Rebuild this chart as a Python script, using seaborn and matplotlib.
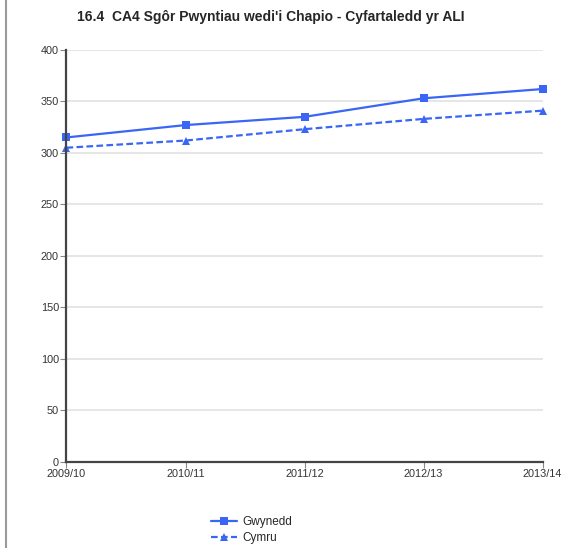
import seaborn as sns
import matplotlib.pyplot as plt
import pandas as pd
from matplotlib.lines import Line2D

# data
years = ['2009/10', '2010/11', '2011/12', '2012/13', '2013/14']
gwynedd = [315, 327, 335, 353, 362]
cymru = [305, 312, 323, 333, 341]

df = pd.DataFrame({'year': years * 2,
                   'score': gwynedd + cymru,
                   'area': ['Gwynedd'] * 5 + ['Cymru'] * 5})

sns.set_style('white')
plt.rcParams['font.family'] = ['Liberation Sans', 'DejaVu Sans']

blue = '#3a66f5'
fig = plt.figure(figsize=(5.73, 5.48), dpi=100)
ax = fig.add_axes([0.115, 0.157, 0.833, 0.752])

sns.lineplot(data=df, x='year', y='score', hue='area', style='area',
             palette=[blue, blue], markers=['s', '^'], dashes=[(None, None), (3, 1.5)],
             markersize=5.5, markeredgewidth=0, linewidth=1.6, ax=ax, sort=False)
for ln in ax.lines:
    ln.set_clip_on(False)

ax.set_ylim(0, 400)
ax.set_xlim(-0.005, 4.005)
ax.set_yticks(range(0, 401, 50))
ax.yaxis.grid(True, color='#e2e2e2', linewidth=1.2)
ax.set_axisbelow(True)
ax.set_xlabel('')
ax.set_ylabel('')
for s in ['top', 'right']:
    ax.spines[s].set_visible(False)
ax.spines['left'].set_color('#444444')
ax.spines['left'].set_linewidth(1.6)
ax.spines['bottom'].set_color('#444444')
ax.spines['bottom'].set_linewidth(1.6)
ax.tick_params(axis='both', length=4, width=0.8, color='#888888', labelsize=7.8,
               labelcolor='#333333', pad=1, direction='out', left=True, bottom=True)

fig.suptitle("16.4  CA4 Sgôr Pwyntiau wedi'i Chapio - Cyfartaledd yr ALI",
             x=0.473, y=0.969, va='center', fontsize=10, fontweight='bold')

handles, labels = ax.get_legend_handles_labels()
ax.legend(handles, labels, loc='upper left', bbox_to_anchor=(0.295, -0.12),
          frameon=False, fontsize=8.5, handlelength=2.2, handletextpad=0.4,
          labelspacing=0.3, borderaxespad=0)

# page border line at the left edge
fig.add_artist(Line2D([0.011, 0.011], [0, 1], color='#9a9a9a', linewidth=1.5))

plt.savefig('out.png', dpi=100)
